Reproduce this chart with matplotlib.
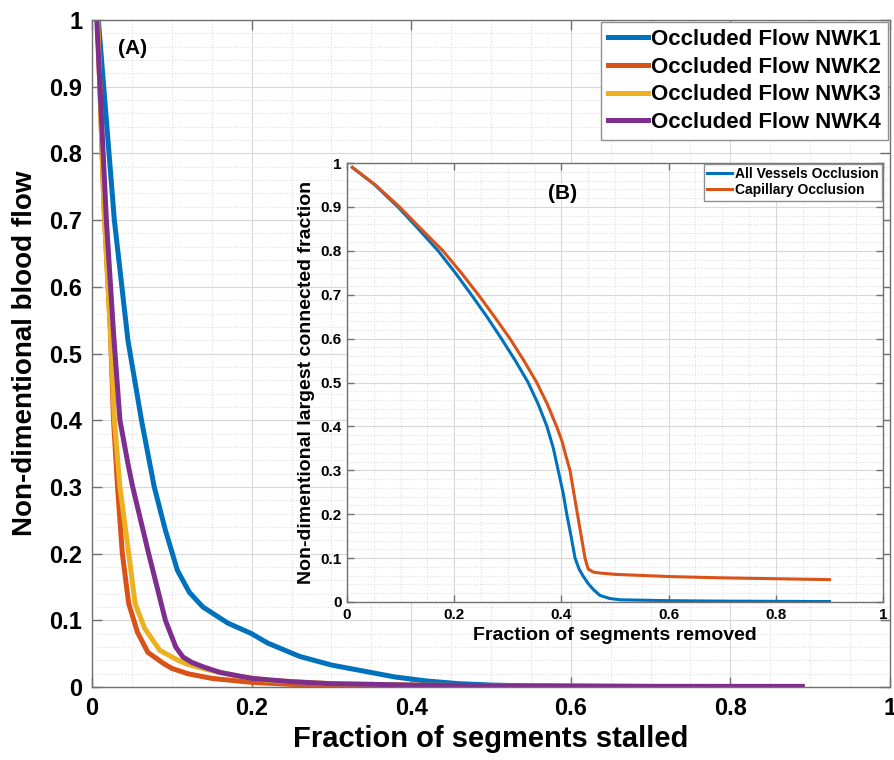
import matplotlib
matplotlib.use('Agg')
import matplotlib.pyplot as plt
from matplotlib.ticker import MultipleLocator, FuncFormatter

plt.rcParams['font.family'] = ['Liberation Sans', 'DejaVu Sans']
plt.rcParams['font.weight'] = 'bold'
plt.rcParams['axes.labelweight'] = 'bold'

# ---------------- Main panel (A) data ----------------
nwk1_x = [0.008, 0.028, 0.045, 0.062, 0.078, 0.092, 0.107, 0.122, 0.139, 0.17, 0.20, 0.22,
          0.26, 0.30, 0.34, 0.38, 0.42, 0.46, 0.50, 0.55, 0.60, 0.70, 0.80, 0.89]
nwk1_y = [1.0, 0.70, 0.52, 0.40, 0.30, 0.235, 0.175, 0.142, 0.12, 0.096, 0.08, 0.066,
          0.046, 0.033, 0.024, 0.015, 0.009, 0.005, 0.003, 0.0015, 0.001, 0.0006, 0.0004, 0.0003]

nwk2_x = [0.007, 0.015, 0.023, 0.027, 0.032, 0.038, 0.046, 0.057, 0.07, 0.09, 0.10, 0.12,
          0.15, 0.20, 0.25, 0.30, 0.40, 0.50, 0.60, 0.70, 0.80, 0.89]
nwk2_y = [1.0, 0.72, 0.535, 0.40, 0.30, 0.20, 0.125, 0.082, 0.052, 0.035, 0.028, 0.02,
          0.013, 0.007, 0.004, 0.003, 0.002, 0.001, 0.001, 0.0008, 0.0006, 0.0005]

nwk3_x = [0.007, 0.015, 0.023, 0.028, 0.035, 0.046, 0.054, 0.066, 0.085, 0.108, 0.12,
          0.145, 0.18, 0.22, 0.30, 0.40, 0.50, 0.60, 0.70, 0.80, 0.89]
nwk3_y = [1.0, 0.72, 0.535, 0.40, 0.30, 0.20, 0.125, 0.088, 0.055, 0.04, 0.034,
          0.026, 0.017, 0.010, 0.005, 0.003, 0.002, 0.0015, 0.001, 0.0008, 0.0006]

nwk4_x = [0.006, 0.018, 0.027, 0.035, 0.045, 0.051, 0.071, 0.092, 0.105, 0.114, 0.125,
          0.14, 0.16, 0.20, 0.25, 0.30, 0.40, 0.50, 0.60, 0.70, 0.80, 0.89]
nwk4_y = [1.0, 0.70, 0.53, 0.40, 0.335, 0.30, 0.20, 0.10, 0.06, 0.045, 0.037,
          0.03, 0.022, 0.013, 0.008, 0.005, 0.003, 0.002, 0.0015, 0.001, 0.001, 0.001]

main_labels = ['Occluded Flow NWK1', 'Occluded Flow NWK2', 'Occluded Flow NWK3', 'Occluded Flow NWK4']

# ---------------- Inset panel (B) data ----------------
all_x = [0.01, 0.052, 0.095, 0.133, 0.170, 0.202, 0.232, 0.261, 0.288, 0.314, 0.338,
         0.357, 0.373, 0.385, 0.394, 0.403, 0.410, 0.418, 0.4255, 0.433, 0.44,
         0.45, 0.46, 0.472, 0.49, 0.51, 0.60, 0.70, 0.80, 0.90]
all_y = [0.99, 0.95, 0.90, 0.85, 0.80, 0.75, 0.70, 0.65, 0.60, 0.55, 0.50,
         0.45, 0.40, 0.35, 0.30, 0.25, 0.20, 0.15, 0.10, 0.075, 0.06,
         0.042, 0.028, 0.015, 0.008, 0.005, 0.003, 0.002, 0.0015, 0.001]

cap_x = [0.01, 0.053, 0.098, 0.138, 0.179, 0.213, 0.245, 0.275, 0.304, 0.330, 0.354,
         0.374, 0.391, 0.401, 0.409, 0.416, 0.423, 0.430, 0.437, 0.444,
         0.450, 0.460, 0.472, 0.50, 0.60, 0.70, 0.80, 0.90]
cap_y = [0.99, 0.95, 0.90, 0.85, 0.80, 0.75, 0.70, 0.65, 0.60, 0.55, 0.50,
         0.45, 0.40, 0.367, 0.33, 0.30, 0.25, 0.20, 0.15, 0.10,
         0.075, 0.068, 0.066, 0.063, 0.058, 0.055, 0.053, 0.051]

inset_labels = ['All Vessels Occlusion', 'Capillary Occlusion']

C_BLUE, C_ORANGE, C_YELLOW, C_PURPLE = '#0072BD', '#D95319', '#EDB120', '#7E2F8E'
AX_COL = '#707070'


def fmt(v, pos):
    s = f"{v:.1f}"
    if s.endswith('.0'):
        s = s[:-2]
    return s


def style_axes(a, fs, ticklen, pad):
    a.set_xlim(0, 1)
    a.set_ylim(0, 1)
    a.xaxis.set_major_locator(MultipleLocator(0.2))
    a.xaxis.set_minor_locator(MultipleLocator(0.05))
    a.yaxis.set_major_locator(MultipleLocator(0.1))
    a.yaxis.set_minor_locator(MultipleLocator(0.02))
    a.xaxis.set_major_formatter(FuncFormatter(fmt))
    a.yaxis.set_major_formatter(FuncFormatter(fmt))
    a.grid(True, which='major', color='#d8d8d8', linestyle='-', linewidth=0.8)
    a.grid(True, which='minor', color='#dedede', linestyle=':', linewidth=0.8)
    a.set_axisbelow(True)
    a.tick_params(which='major', direction='in', top=True, right=True,
                  length=ticklen, width=1.0, color=AX_COL, labelsize=fs, pad=pad)
    a.tick_params(which='minor', length=0)
    for t in a.get_xticklabels() + a.get_yticklabels():
        t.set_fontweight('bold')
    for sp in a.spines.values():
        sp.set_color(AX_COL)
        sp.set_linewidth(1.0)


fig = plt.figure(figsize=(8.95, 7.6), dpi=100)

# Main axes
ax = fig.add_axes([0.1028, 0.096, 0.8916, 0.8776])
style_axes(ax, 17, 7, 7)
lw = 3.6
ax.plot(nwk1_x, nwk1_y, color=C_BLUE, lw=lw, label=main_labels[0])
ax.plot(nwk2_x, nwk2_y, color=C_ORANGE, lw=lw, label=main_labels[1])
ax.plot(nwk3_x, nwk3_y, color=C_YELLOW, lw=lw, label=main_labels[2])
ax.plot(nwk4_x, nwk4_y, color=C_PURPLE, lw=lw, label=main_labels[3])
ax.set_xlabel('Fraction of segments stalled', fontsize=21, fontweight='bold', labelpad=4)
ax.set_ylabel('Non-dimentional blood flow', fontsize=20, fontweight='bold', labelpad=8)
ax.text(0.051, 0.958, '(A)', fontsize=15, fontweight='bold', ha='center', va='center')
leg = ax.legend(loc='upper right', prop={'weight': 'bold', 'size': 16},
                handlelength=1.8, handletextpad=0.15, labelspacing=0.3,
                borderpad=0.3, borderaxespad=0.1, frameon=True, fancybox=False,
                framealpha=1, edgecolor='#909090')
leg.get_frame().set_linewidth(1.0)

# Inset axes
axi = fig.add_axes([0.3877, 0.2079, 0.5989, 0.5776])
axi.set_facecolor('white')
style_axes(axi, 11, 5, 4)
axi.plot(all_x, all_y, color=C_BLUE, lw=2.2, label=inset_labels[0])
axi.plot(cap_x, cap_y, color=C_ORANGE, lw=2.2, label=inset_labels[1])
axi.set_xlabel('Fraction of segments removed', fontsize=14, fontweight='bold', labelpad=4)
axi.set_ylabel('Non-dimentional largest connected fraction', fontsize=14, fontweight='bold', labelpad=4)
axi.text(0.403, 0.93, '(B)', fontsize=15, fontweight='bold', ha='center', va='center')
legi = axi.legend(loc='upper right', prop={'weight': 'bold', 'size': 10},
                  handlelength=1.8, handletextpad=0.2, labelspacing=0.15,
                  borderpad=0.25, borderaxespad=0.05, frameon=True, fancybox=False,
                  framealpha=1, edgecolor='#909090')
legi.get_frame().set_linewidth(1.0)

fig.savefig('out.png', dpi=100, facecolor='white')
